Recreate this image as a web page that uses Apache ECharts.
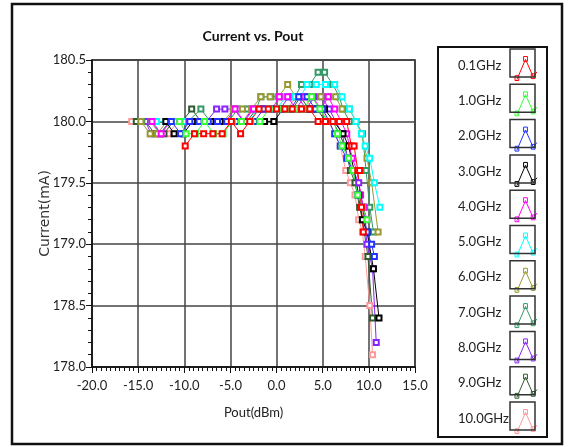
<!DOCTYPE html>
<html>
<head>
<meta charset="utf-8">
<script src="https://cdn.jsdelivr.net/npm/echarts@6/dist/echarts.min.js"></script>
<style>html,body{margin:0;padding:0;background:#fff;}#c{width:569px;height:447px;}</style>
</head>
<body>
<div id="c"></div>
<script>
const seriesNames = ['0.1GHz','1.0GHz','2.0GHz','3.0GHz','4.0GHz','5.0GHz','6.0GHz','7.0GHz','8.0GHz','9.0GHz','10.0GHz'];
const seriesColors = ['#ff0000','#33ff33','#2233ff','#000000','#ff00ff','#00ffff','#999933','#339966','#8822ff','#2f5a2f','#ff9999'];
const xTicks = {min:-20, max:15, interval:5};
const yTicks = {min:178.0, max:180.5, interval:0.5};

const s01 = [[-9.9,179.8],[-8.9,179.9],[-7.9,179.9],[-6.9,179.9],[-5.9,179.9],[-4.9,180.0],[-3.9,179.9],[-2.9,180.0],[-1.9,180.1],[-0.9,180.1],[0.0,180.1],[0.9,180.1],[1.7,180.1],[2.7,180.1],[3.6,180.1],[4.5,180.0],[5.3,180.0],[6.1,180.0],[6.8,180.0],[7.6,180.0],[8.1,179.8],[8.4,179.8],[8.8,179.6],[9.0,179.6],[9.2,179.3],[9.4,179.1]];
const s1 = [[-10.5,180.0],[-9.8,179.9],[-8.8,179.9],[-7.8,180.0],[-6.8,179.9],[-5.8,179.9],[-4.8,180.0],[-3.8,180.0],[-2.8,180.0],[-1.8,180.0],[-0.8,180.1],[0.2,180.1],[1.1,180.1],[2.0,180.1],[2.9,180.1],[3.8,180.2],[4.7,180.1],[5.5,180.0],[6.2,180.0],[6.6,179.9],[7.1,179.8],[7.8,179.7],[8.3,179.6],[8.8,179.4],[9.3,179.3],[9.8,179.2]];
const s2 = [[-11.4,180.0],[-10.4,179.9],[-9.4,180.0],[-8.4,180.0],[-7.4,180.0],[-6.4,180.0],[-5.4,180.0],[-4.4,180.0],[-3.4,180.0],[-2.4,180.0],[-1.4,180.1],[-0.4,180.1],[0.5,180.1],[1.5,180.1],[2.4,180.2],[3.3,180.2],[4.2,180.1],[5.0,180.1],[5.7,180.0],[6.3,179.9],[6.9,179.8],[7.6,179.7],[8.3,179.6],[8.8,179.4],[9.3,179.3],[9.8,179.1],[10.3,179.0],[10.6,178.9]];
const s3 = [[-12.0,180.0],[-11.1,179.9],[-10.1,179.9],[-9.1,180.0],[-8.1,180.0],[-7.1,180.0],[-6.1,180.0],[-5.1,180.0],[-4.1,180.0],[-3.1,180.0],[-2.2,180.0],[-1.3,180.0],[-0.3,180.0],[0.7,180.1],[1.6,180.1],[2.5,180.1],[3.4,180.1],[4.3,180.1],[5.2,180.1],[6.2,180.0],[7.2,179.9],[7.8,179.8],[8.4,179.6],[8.9,179.4],[9.3,179.2],[9.8,179.1],[10.5,178.8],[11.1,178.4]];
const s4 = [[-13.5,180.0],[-12.5,179.9],[-11.5,180.0],[-10.5,180.0],[-9.5,180.0],[-8.5,180.0],[-7.5,180.0],[-6.5,180.0],[-5.5,180.0],[-4.5,180.1],[-3.5,180.0],[-2.5,180.1],[-1.5,180.1],[-0.5,180.1],[0.3,180.2],[1.2,180.2],[2.1,180.1],[3.0,180.2],[3.9,180.2],[4.8,180.1],[5.6,180.2],[6.3,180.1],[7.0,180.0],[7.6,179.9],[8.2,179.7],[8.7,179.6],[9.1,179.4],[9.4,179.3],[9.8,179.2]];
const s5 = [[-13.0,180.0],[-12.0,180.0],[-11.0,180.0],[-10.0,180.0],[-9.0,180.0],[-8.0,180.0],[-7.0,180.0],[-6.0,180.0],[-5.0,180.0],[-4.0,180.0],[-3.0,180.0],[-2.0,180.1],[-1.0,180.1],[0.0,180.1],[1.0,180.2],[2.0,180.2],[2.6,180.2],[3.3,180.3],[4.3,180.3],[5.3,180.3],[6.3,180.3],[7.1,180.2],[7.9,180.1],[8.6,180.0],[9.2,179.9],[9.6,179.8],[10.1,179.7],[10.6,179.5],[11.2,179.3]];
const s6 = [[-14.7,180.0],[-13.7,179.9],[-12.9,179.9],[-11.9,180.0],[-10.9,180.0],[-9.9,180.0],[-8.9,180.0],[-7.9,180.0],[-6.9,180.0],[-5.7,180.0],[-4.7,180.1],[-3.7,180.1],[-2.7,180.1],[-1.7,180.2],[-0.7,180.2],[0.2,180.2],[1.2,180.3],[2.1,180.2],[3.0,180.2],[3.9,180.2],[4.8,180.2],[5.6,180.2],[6.4,180.2],[7.1,180.1],[7.9,180.1],[8.6,180.0],[9.2,179.9],[9.8,179.7],[10.3,179.5],[11.0,179.1]];
const s7 = [[-14.6,180.0],[-13.6,180.0],[-12.6,179.9],[-11.6,180.0],[-10.6,180.0],[-9.6,180.0],[-8.2,180.1],[-7.2,180.0],[-6.2,180.0],[-5.2,180.0],[-4.2,180.1],[-3.2,180.1],[-2.2,180.1],[-1.7,180.2],[-0.6,180.2],[0.4,180.2],[1.3,180.2],[2.0,180.2],[2.7,180.3],[3.6,180.3],[4.5,180.4],[5.2,180.4],[6.1,180.3],[6.8,180.2],[7.2,180.1],[7.9,180.0],[8.6,180.0],[9.3,179.9],[9.7,179.6],[10.1,179.3],[10.5,179.1]];
const s8 = [[-14.2,180.0],[-13.6,179.9],[-12.6,179.9],[-11.6,180.0],[-10.6,180.0],[-9.6,180.0],[-8.6,180.0],[-7.6,180.0],[-6.5,180.1],[-5.6,180.1],[-4.6,180.1],[-3.6,180.0],[-2.6,180.1],[-1.6,180.1],[-0.6,180.1],[0.4,180.1],[1.3,180.2],[2.3,180.2],[3.2,180.1],[4.1,180.2],[4.9,180.2],[5.7,180.1],[6.4,180.0],[7.1,179.9],[7.7,179.7],[8.3,179.6],[8.9,179.5],[9.4,179.3],[9.8,179.0],[10.4,178.8],[10.8,178.2]];
const s9 = [[-15.2,180.0],[-14.2,180.0],[-13.2,179.9],[-12.2,179.9],[-11.2,180.0],[-10.2,180.0],[-9.2,180.1],[-8.2,180.0],[-7.2,180.0],[-6.2,180.0],[-5.2,180.0],[-4.2,180.0],[-3.2,180.0],[-2.2,180.1],[-1.2,180.1],[-0.2,180.1],[0.8,180.1],[1.7,180.1],[2.6,180.2],[3.5,180.1],[4.4,180.1],[5.3,180.0],[6.1,180.0],[6.8,179.9],[7.4,179.8],[8.0,179.6],[8.5,179.5],[9.0,179.3],[9.3,179.2],[9.9,178.9],[10.4,178.4]];
const s10 = [[-15.7,180.0],[-14.7,180.0],[-13.7,180.0],[-12.7,179.9],[-11.7,179.9],[-10.7,180.0],[-9.7,180.0],[-8.7,180.0],[-7.7,180.0],[-6.7,180.0],[-5.7,180.0],[-4.7,180.0],[-3.7,180.0],[-2.7,180.1],[-1.7,180.1],[-0.7,180.1],[0.3,180.1],[1.2,180.1],[2.1,180.2],[3.0,180.2],[3.9,180.1],[4.8,180.1],[5.6,180.0],[6.3,179.9],[6.9,179.8],[7.5,179.6],[8.0,179.5],[8.5,179.4],[8.9,179.2],[9.3,179.1],[9.6,178.9],[10.1,178.5],[10.4,178.1]];
const allData = [s01,s1,s2,s3,s4,s5,s6,s7,s8,s9,s10];

const FONT = 'Lato, "Open Sans", sans-serif';
const chart = echarts.init(document.getElementById('c'), null, {renderer:'canvas'});

const series = [];
for (let i = allData.length - 1; i >= 0; i--) {
  series.push({
    name: seriesNames[i],
    type: 'line',
    data: allData[i],
    symbol: 'emptyRect',
    symbolSize: 5,
    showAllSymbol: true,
    color: seriesColors[i],
    lineStyle: {width: 1, color: seriesColors[i]},
    itemStyle: {color: seriesColors[i], borderWidth: 1},
    emphasis: {disabled: true},
    animation: false
  });
}

// legend key frames (decoration) share the legend's row pitch
const legendTop = 49, rowPitch = 35.3, swX = 510, swW = 25, swH = 28;
const graphics = [
  {type:'rect', shape:{x:12, y:4, width:550, height:440}, style:{fill:'none', stroke:'#111', lineWidth:2.5}, silent:true},
  {type:'rect', shape:{x:438, y:47, width:109, height:390}, style:{fill:'none', stroke:'#111', lineWidth:2}, silent:true}
];
seriesNames.forEach((n, i) => {
  graphics.push({type:'rect', shape:{x:swX, y:legendTop + i*rowPitch, width:swW, height:swH}, style:{fill:'none', stroke:'#333', lineWidth:1.5}, silent:true, z:100});
});

const legendIcon = 'path://M3,25 L12,4 L20,22 L24,17 M1,21 L5,21 L5,26 L1,26 Z M10,1 L14,1 L14,6 L10,6 Z M18,19 L22,19 L22,24 L18,24 Z';
const iconH = 24;

chart.setOption({
  backgroundColor: '#fff',
  animation: false,
  title: {
    text: 'Current vs. Pout', left: 248, top: 24, textAlign: 'center',
    textStyle: {fontFamily: FONT, fontSize: 14, fontWeight: 'bold', color: '#111'}
  },
  grid: {left: 92, right: 154, top: 60, bottom: 80, show: true, borderColor: '#111', borderWidth: 1.5, containLabel: false},
  legend: {
    orient: 'vertical', left: 453, top: legendTop + (swH - iconH) / 2, height: 400, align: 'right',
    itemWidth: 22, itemHeight: iconH, itemGap: rowPitch - iconH - 1,
    selectedMode: false,
    symbolKeepAspect: false,
    data: seriesNames.map((n, i) => ({
      name: n,
      icon: legendIcon,
      itemStyle: {color: 'rgba(0,0,0,0)', borderColor: seriesColors[i], borderWidth: 1}
    })),
    formatter: name => '{a|' + name + '}',
    textStyle: {
      fontFamily: FONT, fontSize: 13, color: '#222',
      rich: {a: {width: 52, align: 'left', padding: [0, 0, 6, 0], fontFamily: FONT, fontSize: 13, color: '#222'}}
    }
  },
  xAxis: {
    type: 'value', min: xTicks.min, max: xTicks.max, interval: xTicks.interval,
    name: 'Pout(dBm)', nameLocation: 'middle', nameGap: 39, nameMoveOverlap: false,
    nameTextStyle: {fontFamily: FONT, fontSize: 13, color: '#222'},
    axisLine: {show: true, onZero: false, lineStyle: {color: '#111', width: 1.5}},
    axisTick: {show: true, inside: false, length: 6, lineStyle: {color: '#111', width: 1}},
    minorTick: {show: true, splitNumber: 10, length: 4, lineStyle: {color: '#111', width: 1}},
    axisLabel: {fontFamily: FONT, fontSize: 13, color: '#222', margin: 12, formatter: v => v.toFixed(1)},
    splitLine: {show: true, lineStyle: {color: '#444', width: 1.5}}
  },
  yAxis: {
    type: 'value', min: yTicks.min, max: yTicks.max, interval: yTicks.interval,
    name: 'Current(mA)', nameLocation: 'middle', nameGap: 40, nameRotate: 90, nameMoveOverlap: false,
    nameTextStyle: {fontFamily: '"DejaVu Sans", sans-serif', fontSize: 14, color: '#333'},
    axisLine: {show: true, onZero: false, lineStyle: {color: '#111', width: 1.5}},
    axisTick: {show: true, inside: false, length: 6, lineStyle: {color: '#111', width: 1}},
    minorTick: {show: true, splitNumber: 5, length: 4, lineStyle: {color: '#111', width: 1}},
    axisLabel: {fontFamily: FONT, fontSize: 13, color: '#222', margin: 6, formatter: v => v.toFixed(1)},
    splitLine: {show: true, lineStyle: {color: '#444', width: 1.5}}
  },
  series: series,
  graphic: graphics
});
</script>
</body>
</html>
